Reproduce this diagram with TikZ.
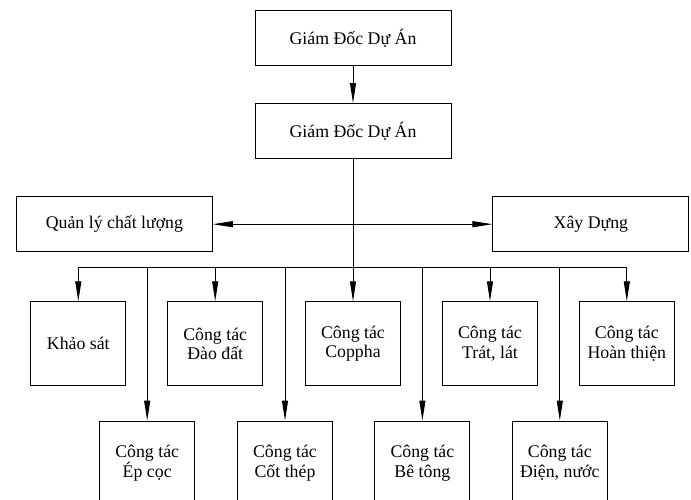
\documentclass[tikz,border=0pt]{standalone}
\usepackage{fontspec}
\setmainfont{Liberation Serif}
\usetikzlibrary{arrows.meta}
\begin{document}
\begin{tikzpicture}[x=1pt,y=-1pt, line width=0.9pt,
  txt/.style={font=\fontsize{17.8}{19.5}\selectfont, align=center, inner sep=0pt},
  box/.style={draw, txt, minimum width=95pt, minimum height=84pt},
  wide/.style={draw, txt, minimum width=196pt, minimum height=55pt},
  arr/.style={-{Triangle[length=20pt,width=6pt]}},
  darr/.style={{Triangle[length=20pt,width=6pt]}-{Triangle[length=20pt,width=6pt]}}]
\useasboundingbox (0,0) rectangle (691,499);
\clip (0,0) rectangle (691,499);
% top
\node[wide] (gd1) at (353,38) {Giám Đốc Dự Án};
\node[wide] (gd2) at (353,131) {Giám Đốc Dự Án};
\node[wide] (ql) at (114.4,224.2) {Quản lý chất lượng};
\node[wide] (xd) at (590.9,224.2) {Xây Dựng};
% top row
\node[box] (kh) at (78.3,343.7) {Khảo sát};
\node[box] (dd) at (215.2,343.7) {Công tác\\Đào đất};
\node[box] (cp) at (353,343.7) {Công tác\\Coppha};
\node[box] (tl) at (490,343.7) {Công tác\\Trát, lát};
\node[box] (ht) at (626.8,343.7) {Công tác\\Hoàn thiện};
% bottom row
\node[box] (ep) at (147.2,463) {Công tác\\Ép cọc};
\node[box] (ct) at (285,463) {Công tác\\Cốt thép};
\node[box] (bt) at (422.4,463) {Công tác\\Bê tông};
\node[box] (dn) at (559.8,463) {Công tác\\Điện, nước};
% connectors
\coordinate (bus) at (0,267.7);
\draw[arr] (gd1) -- (gd2);
\draw[arr] (gd2) -- (cp);
\draw[darr] (ql) -- (xd);
\draw (kh.north |- bus) -- (ht.north |- bus);
\foreach \n in {kh,dd,tl,ht,ep,ct,bt,dn}
  \draw[arr] (\n.north |- bus) -- (\n.north);
\end{tikzpicture}
\end{document}
